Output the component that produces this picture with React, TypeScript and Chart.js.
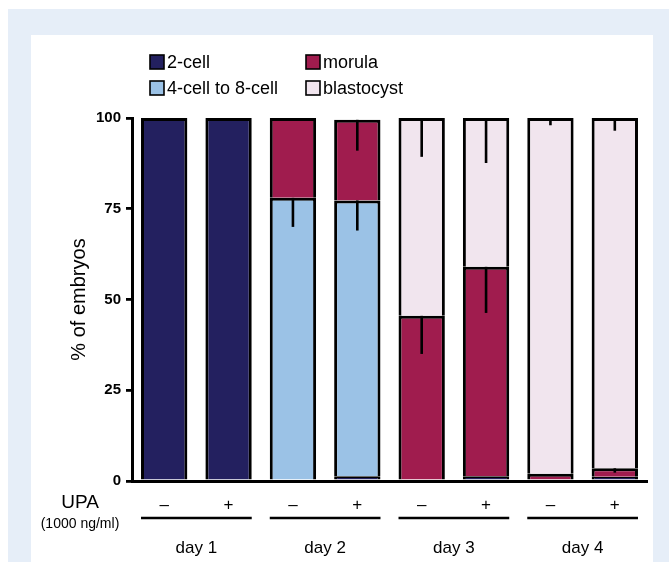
import React, { useEffect, useRef } from "react";
import { Chart, registerables } from "chart.js";

Chart.register(...registerables);

// ---- data ----
const days = ["day 1", "day 2", "day 3", "day 4"];
const upa = ["–", "+"];
const categories = ["d1-", "d1+", "d2-", "d2+", "d3-", "d3+", "d4-", "d4+"];

const twoCell = [100, 100, 0, 1.3, 0, 1.3, 0, 1.2];
const fourToEight = [0, 0, 78, 76, 0, 0, 0, 0];
const morula = [0, 0, 22, 22.2, 45.5, 57.7, 2, 2.3];
const blastocyst = [0, 0, 0, 0, 54.5, 41, 98, 96.5];

const twoCellErr = [0, 0, 0, 0, 0, 0, 0, 0];
const fourToEightErr = [0, 0, 8, 8.3, 0, 0, 0, 0];
const morulaErr = [0, 0, 0, 8.5, 10.5, 12.7, 0, 1.2];
const blastocystErr = [0, 0, 0, 0, 10.7, 12.4, 2, 3.5];

const seriesNames = ["2-cell", "4-cell to 8-cell", "morula", "blastocyst"];
const seriesColors = ["#23205f", "#9bc2e6", "#a01c4e", "#f1e5ee"];
const seriesValues = [twoCell, fourToEight, morula, blastocyst];
const seriesErrors = [twoCellErr, fourToEightErr, morulaErr, blastocystErr];

const yTicks = [0, 25, 50, 75, 100];

const FONT = "'Liberation Sans', Arial, sans-serif";

const overlayPlugin = {
  id: "overlay",
  afterDatasetsDraw(chart: any) {
    const ctx = chart.ctx;
    const y = chart.scales.y;
    ctx.save();
    ctx.strokeStyle = "#000";
    ctx.lineWidth = 2.6;
    for (let i = 0; i < seriesValues.length; i++) {
      const meta = chart.getDatasetMeta(i);
      for (let j = 0; j < categories.length; j++) {
        const err = seriesErrors[i][j];
        if (!err) continue;
        let top = 0;
        for (let k = 0; k <= i; k++) top += seriesValues[k][j];
        const el = meta.data[j];
        ctx.beginPath();
        ctx.moveTo(el.x, y.getPixelForValue(top));
        ctx.lineTo(el.x, y.getPixelForValue(top - err));
        ctx.stroke();
      }
    }
    ctx.restore();
  },
  afterDraw(chart: any) {
    const ctx = chart.ctx;
    const meta = chart.getDatasetMeta(0);
    ctx.save();
    ctx.fillStyle = "#000";
    ctx.strokeStyle = "#000";
    ctx.lineWidth = 2.6;
    ctx.textAlign = "center";
    ctx.textBaseline = "middle";
    ctx.font = `17px ${FONT}`;
    days.forEach((d, i) => {
      const a = meta.data[i * 2];
      const b = meta.data[i * 2 + 1];
      const x0 = a.x - a.width / 2;
      const x1 = b.x + b.width / 2;
      ctx.beginPath();
      ctx.moveTo(x0, 483);
      ctx.lineTo(x1, 483);
      ctx.stroke();
      ctx.fillText(d, (x0 + x1) / 2, 513);
    });
    ctx.font = `19px ${FONT}`;
    ctx.fillText("UPA", 49, 468);
    ctx.font = `14px ${FONT}`;
    ctx.fillText("(1000 ng/ml)", 49, 489);
    // legend
    const legendPos = [
      [119, 27],
      [119, 53],
      [275, 27],
      [275, 53],
    ];
    ctx.font = `18px ${FONT}`;
    ctx.textAlign = "left";
    seriesNames.forEach((n, i) => {
      const [lx, ly] = legendPos[i];
      ctx.fillStyle = seriesColors[i];
      ctx.fillRect(lx, ly - 7, 14, 14);
      ctx.lineWidth = 1.6;
      ctx.strokeRect(lx, ly - 7, 14, 14);
      ctx.fillStyle = "#000";
      ctx.fillText(n, lx + 17, ly + 1);
    });
    ctx.restore();
  },
};

export default function App() {
  const ref = useRef<HTMLCanvasElement>(null);
  useEffect(() => {
    if (!ref.current) return;
    const chart = new Chart(ref.current, {
      type: "bar",
      data: {
        labels: categories,
        datasets: seriesValues.map((vals, i) => ({
          label: seriesNames[i],
          data: vals,
          backgroundColor: seriesColors[i],
          borderColor: "#000",
          borderWidth: 3,
          borderSkipped: "start",
          barPercentage: 0.72,
          categoryPercentage: 1,
        })),
      },
      options: {
        animation: false,
        responsive: false,
        layout: { padding: { top: 83, right: 6, left: 0, bottom: 0 } },
        plugins: { legend: { display: false }, tooltip: { enabled: false } },
        scales: {
          x: {
            stacked: true,
            grid: { display: false },
            border: { display: true, color: "#000", width: 3 },
            ticks: {
              color: "#000",
              font: { family: FONT, size: 17 },
              padding: 6,
              callback: (_v: any, idx: number) => upa[idx % 2],
            },
            afterFit: (s: any) => {
              s.height = 81;
            },
          },
          y: {
            stacked: true,
            min: 0,
            max: 100,
            afterBuildTicks: (s: any) => {
              s.ticks = yTicks.map((v) => ({ value: v }));
            },
            grid: {
              display: true,
              drawOnChartArea: false,
              drawTicks: true,
              tickLength: 6,
              lineWidth: 2.8,
              color: "#000",
            },
            border: { display: true, color: "#000", width: 3 },
            ticks: {
              color: "#000",
              font: { family: FONT, size: 15, weight: "bold" },
              padding: 5,
            },
            title: {
              display: true,
              text: "% of embryos",
              color: "#000",
              font: { family: FONT, size: 20 },
              padding: { top: 36, bottom: 0 },
            },
            afterFit: (s: any) => {
              s.width = 101;
            },
          },
        },
      },
      plugins: [overlayPlugin],
    });
    return () => chart.destroy();
  }, []);
  return (
    <>
      <style>{`html,body{margin:0;padding:0;overflow:hidden;background:#fff;}`}</style>
      <div
        style={{
          position: "absolute",
          left: 8,
          top: 9,
          width: 661,
          height: 553,
          background: "#e6eef8",
        }}
      >
        <div
          style={{
            position: "absolute",
            left: 23,
            top: 26,
            width: 622,
            height: 527,
            background: "#fff",
          }}
        >
          <canvas ref={ref} width={622} height={527} style={{ display: "block" }} />
        </div>
      </div>
    </>
  );
}
